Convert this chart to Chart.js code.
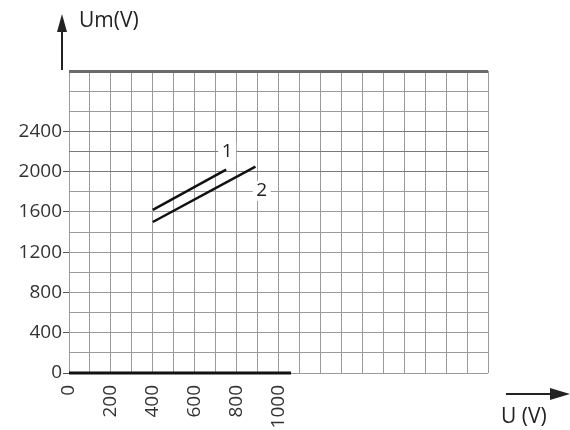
<!DOCTYPE html>
<html>
<head>
<meta charset="utf-8">
<script src="https://cdn.jsdelivr.net/npm/chart.js@4"></script>
<style>
  html, body { margin: 0; padding: 0; background: #fff; }
  #wrap { width: 570px; height: 430px; }
</style>
</head>
<body>
<div id="wrap"><canvas id="umChart" width="570" height="430"></canvas></div>
<script>
// curve 1 and curve 2 (U in V, Um in V)
const curve1U = [400, 750];
const curve1Um = [1620, 2020];
const curve2U = [400, 890];
const curve2Um = [1500, 2050];

// where the curve numbers sit
const curveLabels = ['1', '2'];
const labelU = [755, 920];
const labelUm = [2200, 1810];

// thick base line of the U axis
const baseU = [0, 1060];
const baseUm = [0, 0];

const yTicks = [0, 400, 800, 1200, 1600, 2000, 2400];
const xTicks = [0, 200, 400, 600, 800, 1000];

const FONT = '"Open Sans", "Noto Sans", sans-serif';

function toPoints(xs, ys) {
    return xs.map((x, i) => ({ x: x, y: ys[i] }));
}

// arrows, axis titles and curve numbers
const extras = {
    id: 'extras',
    afterDatasetsDraw(chart) {
        const ctx = chart.ctx;
        const x = chart.scales.x, y = chart.scales.y;
        ctx.save();
        ctx.fillStyle = '#222';
        ctx.strokeStyle = '#222';
        ctx.font = '19px ' + FONT;
        ctx.textBaseline = 'middle';

        // numbers on the curves, with white behind to break the grid
        curveLabels.forEach((t, i) => {
            const px = x.getPixelForValue(labelU[i]);
            const py = y.getPixelForValue(labelUm[i]);
            ctx.fillStyle = '#fff';
            ctx.fillRect(px - 9, py - 10, 18, 20);
            ctx.fillStyle = '#222';
            ctx.textAlign = 'center';
            ctx.fillText(t, px, py);
        });

        // up arrow and Um(V)
        const ax = chart.chartArea.left - 7;
        ctx.lineWidth = 2;
        ctx.beginPath();
        ctx.moveTo(ax, chart.chartArea.top - 1);
        ctx.lineTo(ax, 26);
        ctx.stroke();
        ctx.beginPath();
        ctx.moveTo(ax, 14);
        ctx.lineTo(ax - 5, 32);
        ctx.lineTo(ax + 5, 32);
        ctx.closePath();
        ctx.fill();
        ctx.textAlign = 'left';
        ctx.font = '21px ' + FONT;
        ctx.fillText('Um(V)', 79, 21);

        // right arrow and U (V)
        ctx.beginPath();
        ctx.moveTo(506, 394);
        ctx.lineTo(554, 394);
        ctx.stroke();
        ctx.beginPath();
        ctx.moveTo(570, 394);
        ctx.lineTo(550, 388);
        ctx.lineTo(550, 400);
        ctx.closePath();
        ctx.fill();
        ctx.fillText('U (V)', 501, 417);
        ctx.restore();
    }
};

new Chart(document.getElementById('umChart'), {
    type: 'scatter',
    data: {
        datasets: [
            {
                label: '1',
                data: toPoints(curve1U, curve1Um),
                showLine: true,
                borderColor: '#111',
                borderWidth: 2.5,
                pointRadius: 0
            },
            {
                label: '2',
                data: toPoints(curve2U, curve2Um),
                showLine: true,
                borderColor: '#111',
                borderWidth: 2.5,
                pointRadius: 0
            },
            {
                label: 'base',
                data: toPoints(baseU, baseUm),
                showLine: true,
                borderColor: '#111',
                borderWidth: 3,
                pointRadius: 0,
                clip: false
            }
        ]
    },
    options: {
        responsive: false,
        animation: false,
        layout: { padding: { left: 0, right: 82, top: 71, bottom: 0 } },
        plugins: {
            legend: { display: false },
            tooltip: { enabled: false }
        },
        scales: {
            x: {
                type: 'linear',
                min: 0,
                max: 2000,
                afterFit: (s) => { s.height = 57; },
                afterBuildTicks: (s) => {
                    const t = [];
                    for (let v = 0; v <= 2000; v += 100) t.push({ value: v });
                    s.ticks = t;
                },
                grid: {
                    color: '#9a9a9a',
                    lineWidth: 1,
                    drawTicks: false
                },
                border: { display: false },
                ticks: {
                    autoSkip: false,
                    minRotation: 90,
                    maxRotation: 90,
                    padding: 12,
                    color: '#333',
                    font: { family: FONT, size: 19 },
                    callback: (v) => xTicks.includes(v) ? String(v) : ''
                }
            },
            y: {
                type: 'linear',
                min: 0,
                max: 3000,
                afterFit: (s) => { s.width = 69; },
                afterBuildTicks: (s) => {
                    const t = [];
                    for (let v = 0; v <= 3000; v += 200) t.push({ value: v });
                    s.ticks = t;
                },
                grid: {
                    color: (c) => {
                        const v = c.tick && c.tick.value;
                        if (v === 3000) return '#6a6a6a';
                        if (v >= 2000 && v <= 2400) return '#7a7a7a';
                        return '#9a9a9a';
                    },
                    lineWidth: (c) => (c.tick && c.tick.value === 3000) ? 3 : 1,
                    drawTicks: true,
                    tickLength: 6,
                    tickColor: (c) => (c.tick && yTicks.includes(c.tick.value)) ? '#555' : 'rgba(0,0,0,0)'
                },
                border: { display: false },
                ticks: {
                    autoSkip: false,
                    padding: 1,
                    color: '#333',
                    font: { family: FONT, size: 19 },
                    callback: (v) => yTicks.includes(v) ? String(v) : ''
                }
            }
        }
    },
    plugins: [extras]
});
</script>
</body>
</html>
